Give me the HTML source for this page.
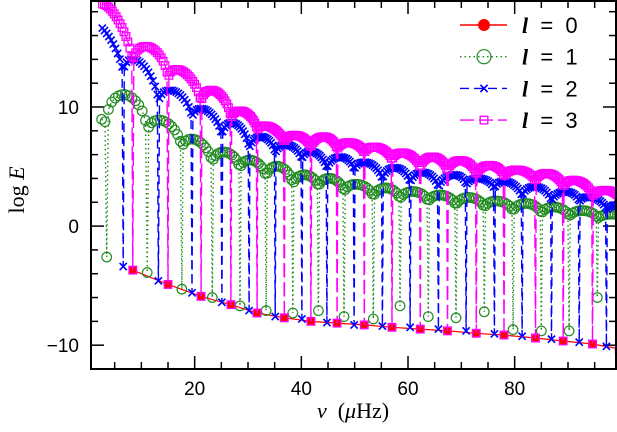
<!DOCTYPE html>
<html><head><meta charset="utf-8"><style>
html,body{margin:0;padding:0;background:#fff}
svg{display:block}
text{font-family:"Liberation Sans",sans-serif}
.serif{font-family:"Liberation Serif",serif}
</style></head><body>
<svg id="chart" width="617" height="432" viewBox="0 0 617 432" xmlns="http://www.w3.org/2000/svg">
<defs><clipPath id="plotclip"><rect x="91" y="1" width="525" height="368"/></clipPath></defs>
<g id="axes"></g>
<g id="series" clip-path="url(#plotclip)"></g>
<rect x="91" y="1" width="525" height="368" fill="none" stroke="#000" stroke-width="2"/>
<text class="serif" x="353" y="418" font-size="22" text-anchor="middle"><tspan font-style="italic">ν</tspan> &#160;(<tspan font-style="italic">μ</tspan>Hz)</text>
<text class="serif" transform="translate(24,190) rotate(-90)" font-size="22" text-anchor="middle">log <tspan font-style="italic">E</tspan></text>
<g id="legend"></g>
</svg>
<script>
// ---- data ----
const l0Freq = [8.4,15.0,21.2,26.8,31.7,36.8,41.8,46.7,51.8,57.0,62.3,67.4,72.8,78.0,83.9,89.1,94.6,99.6];
const l0Val  = [-3.7,-4.9,-5.9,-6.6,-7.3,-7.7,-8.0,-8.15,-8.3,-8.5,-8.65,-8.8,-9.0,-9.15,-9.4,-9.65,-9.9,-10.3];

const l1Dips   = [3.5,11.1,17.6,23.3,28.5,33.4,38.4,43.2,48.0,53.5,58.5,63.8,69.0,74.3,79.7,85.0,90.2,95.5];
const l1DipVal = [-2.6,-3.9,-5.3,-6.0,-6.7,-7.1,-7.3,-7.1,-7.6,-7.8,-6.7,-7.6,-7.7,-7.2,-8.7,-8.8,-8.8,-6.0];
const l1Edge   = [8.5,7.5,6.2,5.0,4.5,3.8,3.2,3.0,2.6,2.2,2.0,1.8,1.5,1.3,1.0,0.8,0.6,0.5];
const l1Peak   = [9.5,11.0,8.8,7.2,6.2,5.5,5.0,4.3,4.0,3.5,3.2,2.9,2.6,2.4,2.1,1.9,1.6,1.3,1.0];

const l2Dips   = [6.6,13.2,19.5,25.1,30.2,35.1,40.1,44.8,49.9,55.2,60.4,65.7,70.9,76.2,81.4,86.9,92.1,97.2];
const l2DipVal = [-3.4,-4.6,-5.6,-6.4,-7.1,-7.6,-7.8,-8.1,-8.3,-8.4,-8.5,-8.65,-8.8,-9.05,-9.25,-9.5,-9.75,-10.1];
const l2Edge   = [12.5,10.0,8.7,7.2,6.1,5.8,5.3,4.5,4.4,3.6,3.3,2.9,3.2,2.9,2.2,1.8,1.8,1.2];
const l2Peak   = [16.3,13.7,11.3,9.7,8.6,7.5,6.8,6.2,5.8,5.3,4.9,4.5,4.3,4.0,3.7,3.3,2.9,2.4,1.8];

const l3Dips   = [8.4,15.0,21.2,26.8,31.7,36.8,41.8,46.7,51.8,57.0,62.3,67.4,72.8,78.0,83.9,89.1,94.6,99.6];
const l3DipVal = [-3.7,-4.9,-5.9,-6.6,-7.3,-7.7,-8.0,-8.15,-8.3,-8.5,-8.65,-8.8,-9.0,-9.15,-9.4,-9.65,-9.9,-10.3];
const l3Edge   = [13.3,12.0,10.0,8.7,7.8,6.8,6.3,6.2,5.9,5.3,4.6,4.3,4.0,3.9,3.5,3.0,2.3,2.2];
const l3Peak   = [17.7,15.0,12.9,11.3,9.6,8.3,7.6,7.5,7.0,6.6,6.1,5.8,5.5,5.1,4.7,4.4,3.8,3.0,2.5];

const xTicks = [20,40,60,80];
const yTicks = [-10,0,10];
const legendLabels = ['0','1','2','3'];

// ---- scales ----
const X0=91,X1=616,Y0=1,Y1=369, XMIN=0.56,XMAX=99.0, YMIN=-12.0,YMAX=18.9;
const sx=v=>X0+(v-XMIN)/(XMAX-XMIN)*(X1-X0);
const sy=v=>Y1-(v-YMIN)/(YMAX-YMIN)*(Y1-Y0);
const NS='http://www.w3.org/2000/svg';
const axes=document.getElementById('axes');
const series=document.getElementById('series');
const legend=document.getElementById('legend');
function mk(tag,attrs,parent){const e=document.createElementNS(NS,tag);for(const k in attrs)e.setAttribute(k,attrs[k]);parent.appendChild(e);return e;}

for(let v=5;v<XMAX;v+=5){
  const major=v%20===0, L=major?13:7, x=sx(v);
  const t1=mk('line',{x1:x,x2:x,y1:Y1,y2:Y1-L,stroke:'#000','stroke-width':1.5},axes);
  
  
  const t2=mk('line',{x1:x,x2:x,y1:Y0,y2:Y0+L,stroke:'#000','stroke-width':1.5},axes);
  
  
}
xTicks.forEach(v=>{
  const t=mk('text',{x:sx(v),y:Y1+26,'font-size':19,'text-anchor':'middle'},axes);
  t.textContent=v;
  
  
});
for(let v=-12;v<=18;v+=2){
  const major=v%10===0, L=major?13:7, y=sy(v);
  const t1=mk('line',{x1:X0,x2:X0+L,y1:y,y2:y,stroke:'#000','stroke-width':1.5},axes);
  
  
  const t2=mk('line',{x1:X1,x2:X1-L,y1:y,y2:y,stroke:'#000','stroke-width':1.5},axes);
  
  
}
yTicks.forEach(v=>{
  const t=mk('text',{x:X0-12,y:sy(v)+7,'font-size':19,'text-anchor':'end'},axes);
  t.textContent=v<0?'\u2212'+Math.abs(v):v;
  
  
});

function build(dips,dipVal,edge,peak,N){
  const pts=[];
  const n=dips.length;
  for(let i=0;i<=n;i++){
    const a=i===0?dips[0]-(dips[1]-dips[0]):dips[i-1];
    const b=i===n?dips[n-1]+(dips[n-1]-dips[n-2]):dips[i];
    const el=i===0?peak[0]:edge[i-1];
    const er=i===n?edge[n-1]:edge[i];
    for(let k=0;k<N;k++){
      const t=(k+0.5)/N;
      const base=el*(1-t)+er*t;
      const v=base+(peak[i]-(el+er)/2)*Math.pow(Math.sin(Math.PI*t),0.4);
      pts.push([a+(b-a)*t,v]);
    }
    if(i<n) pts.push([dips[i],dipVal[i]]);
  }
  return pts.filter(p=>p[0]>=2.5&&p[0]<=99.8);
}
function drawLine(pts,color,dash,name,w){
  const d=pts.map((p,i)=>(i?'L':'M')+sx(p[0]).toFixed(1)+' '+sy(p[1]).toFixed(1)).join(' ');
  const path=mk('path',{d:d,fill:'none',stroke:color,'stroke-width':w||1.4,'stroke-dasharray':dash},series);
  
  
}
function marker(type,x,y,color,parent){
  let e;
  if(type==='dot') e=mk('circle',{cx:x,cy:y,r:4.2,fill:color},parent);
  else if(type==='circle') e=mk('circle',{cx:x,cy:y,r:4.8,fill:'none',stroke:color,'stroke-width':1.2},parent);
  else if(type==='x') e=mk('path',{d:`M${x-3.6} ${y-3.6}L${x+3.6} ${y+3.6}M${x-3.6} ${y+3.6}L${x+3.6} ${y-3.6}`,stroke:color,'stroke-width':1.6,fill:'none'},parent);
  else e=mk('rect',{x:x-3.8,y:y-3.8,width:7.6,height:7.6,fill:'none',stroke:color,'stroke-width':1.3},parent);
  return e;
}
function drawMarkers(pts,type,color,name){
  const g=mk('g',{},series);
  
  
  pts.forEach(p=>{
    const m=marker(type,sx(p[0]),sy(p[1]),color,g);
    
    
  });
}
const red='#ff0000',green='#228b22',blue='#0000ff',pink='#ff00ff';
const p0=l0Freq.map((f,i)=>[f,l0Val[i]]);
const p1=build(l1Dips,l1DipVal,l1Edge,l1Peak,12);
const p2=build(l2Dips,l2DipVal,l2Edge,l2Peak,16);
const p3=build(l3Dips,l3DipVal,l3Edge,l3Peak,18);
drawLine(p0,red,'none','l0-line',1.2);
drawMarkers(p0,'dot',red,'l0-series');
drawLine(p1,green,'1.5 3','l1-line');
drawMarkers(p1,'circle',green,'l1-series');
drawLine(p2,blue,'9 5','l2-line');
drawMarkers(p2,'x',blue,'l2-series');
drawLine(p3,pink,'14 5','l3-line');
drawMarkers(p3,'square',pink,'l3-series');

const legColors=[red,green,blue,pink], legDash=['none','1.5 3','9 5','14 5'], legMark=['dot','circle','x','square'];
legendLabels.forEach((lab,i)=>{
  const y=25+i*31.7;
  const g=mk('g',{},legend);
  
  
  mk('line',{x1:460,x2:507,y1:y,y2:y,stroke:legColors[i],'stroke-width':1.4,'stroke-dasharray':legDash[i]},g);
  const m=marker(legMark[i],484,y,legColors[i],g);
  if(legMark[i]==='dot') m.setAttribute('r',6);
  if(legMark[i]==='circle') m.setAttribute('r',7);
  const t=mk('text',{x:522,y:y+8,'font-size':22},g);
  t.innerHTML='<tspan class="serif" font-style="italic" font-weight="bold">l</tspan>&#160; = &#160;'+lab;
});
</script>
</body></html>
